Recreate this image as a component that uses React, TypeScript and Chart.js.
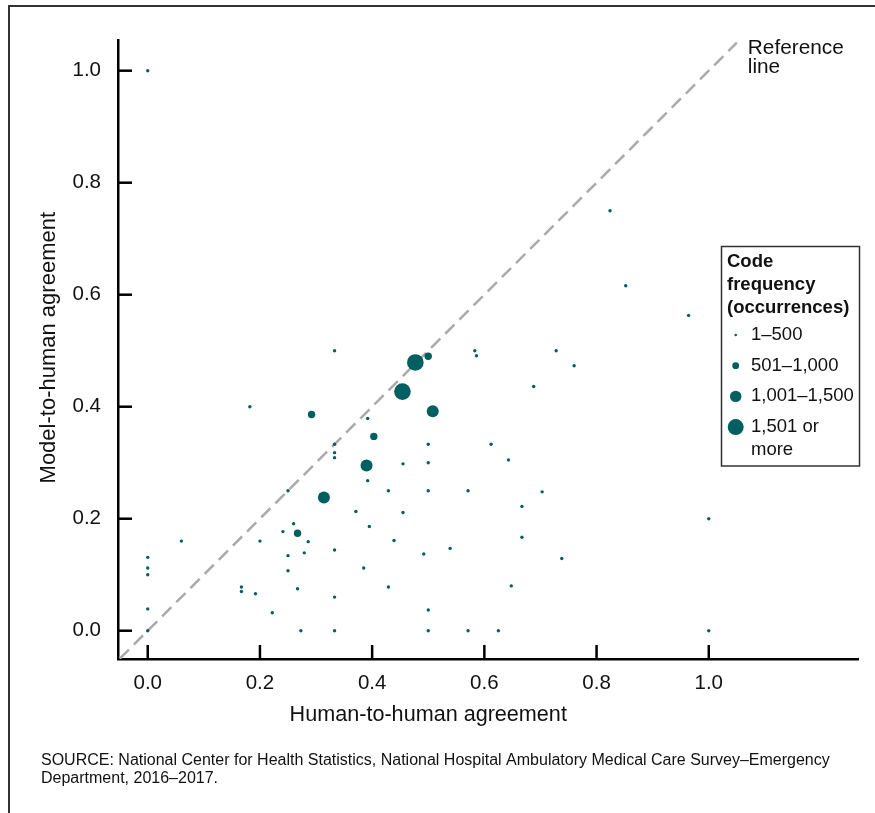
import React, { useEffect, useRef } from "react";
import { Chart, registerables } from "chart.js";

Chart.register(...registerables);

// ---- Data ----
const humanAgreement = [
  0, 0.824, 0.852, 0.964, 0.333, 0.583, 0.586, 0.728, 0.76, 0.688,
  0.182, 0.392, 0.333, 0.333, 0.333, 0.5, 0.612, 0.455, 0.5, 0.643,
  0.392, 0.25, 0.429, 0.5, 0.571, 0.703, 0.667, 0.371, 0.455, 1.0,
  0.26, 0.241, 0.395, 0.667, 0.286, 0.2, 0.06, 0.439, 0.539, 0.333,
  0.279, 0.25, 0.492, 0.738, 0, 0, 0, 0.385, 0.25, 0.167,
  0.167, 0.192, 0.267, 0.429, 0.648, 0.333, 0, 0.5, 0.222, 0,
  0.273, 0.333, 0.5, 0.571, 0.625, 1.0,
  0.292, 0.267, 0.403, 0.5,
  0.314, 0.508, 0.39,
  0.477, 0.454,
];
const modelAgreement = [
  1.0, 0.75, 0.616, 0.563, 0.5, 0.5, 0.491, 0.5, 0.473, 0.436,
  0.4, 0.379, 0.333, 0.318, 0.309, 0.333, 0.333, 0.298, 0.3, 0.305,
  0.268, 0.25, 0.25, 0.25, 0.25, 0.248, 0.222, 0.213, 0.211, 0.2,
  0.191, 0.177, 0.186, 0.167, 0.159, 0.16, 0.16, 0.161, 0.147, 0.144,
  0.139, 0.134, 0.137, 0.129, 0.131, 0.112, 0.1, 0.112, 0.107, 0.078,
  0.07, 0.066, 0.075, 0.078, 0.08, 0.06, 0.039, 0.037, 0.032, 0,
  0, 0, 0, 0, 0, 0,
  0.386, 0.174, 0.347, 0.49,
  0.238, 0.392, 0.295,
  0.479, 0.427,
];
// 0 = 1–500, 1 = 501–1,000, 2 = 1,001–1,500, 3 = 1,501 or more
const frequencyBand = [
  0, 0, 0, 0, 0, 0, 0, 0, 0, 0,
  0, 0, 0, 0, 0, 0, 0, 0, 0, 0,
  0, 0, 0, 0, 0, 0, 0, 0, 0, 0,
  0, 0, 0, 0, 0, 0, 0, 0, 0, 0,
  0, 0, 0, 0, 0, 0, 0, 0, 0, 0,
  0, 0, 0, 0, 0, 0, 0, 0, 0, 0,
  0, 0, 0, 0, 0, 0,
  1, 1, 1, 1,
  2, 2, 2,
  3, 3,
];
const bandLabels = ["1–500", "501–1,000", "1,001–1,500", "1,501 or more"];
const legendTitle = ["Code", "frequency", "(occurrences)"];
const xTickValues = [0, 0.2, 0.4, 0.6, 0.8, 1.0];
const yTickValues = [0, 0.2, 0.4, 0.6, 0.8, 1.0];
const referenceLineEnds = [-0.05, 1.05];
const referenceLabel = ["Reference", "line"];
const xTitle = "Human-to-human agreement";
const yTitle = "Model-to-human agreement";
const sourceLines = [
  "SOURCE: National Center for Health Statistics, National Hospital Ambulatory Medical Care Survey–Emergency",
  "Department, 2016–2017.",
];

// ---- Styles ----
const FONT = '"Liberation Sans", Arial, Helvetica, sans-serif';
const TEAL = "#005f60";
const TEXT = "#111111";
const BAND_RADIUS = [1.7, 3.7, 6, 8.3];
const LEGEND_RADIUS = [1.3, 3.4, 5.7, 8];

function wrapText(ctx: CanvasRenderingContext2D, text: string, maxWidth: number): string[] {
  const words = text.split(" ");
  const lines: string[] = [];
  let cur = "";
  words.forEach((w) => {
    const test = cur ? cur + " " + w : w;
    if (ctx.measureText(test).width > maxWidth && cur) {
      lines.push(cur);
      cur = w;
    } else {
      cur = test;
    }
  });
  if (cur) lines.push(cur);
  return lines;
}

const decorPlugin = {
  id: "decor",
  afterDraw(chart: any) {
    const { ctx, chartArea } = chart;
    const x = chart.scales.x;
    const y = chart.scales.y;
    ctx.save();

    // outer frame (top & left edges)
    ctx.fillStyle = "#333333";
    ctx.fillRect(8, 5, chart.width - 8, 2);
    ctx.fillRect(8, 5, 2, chart.height - 5);

    // inward tick marks
    ctx.strokeStyle = "#000";
    ctx.lineWidth = 2.5;
    xTickValues.forEach((v) => {
      const px = x.getPixelForValue(v);
      ctx.beginPath();
      ctx.moveTo(px, chartArea.bottom);
      ctx.lineTo(px, chartArea.bottom - 14);
      ctx.stroke();
    });
    yTickValues.forEach((v) => {
      const py = y.getPixelForValue(v);
      ctx.beginPath();
      ctx.moveTo(chartArea.left, py);
      ctx.lineTo(chartArea.left + 14, py);
      ctx.stroke();
    });

    // axis titles
    ctx.fillStyle = TEXT;
    ctx.textAlign = "center";
    ctx.textBaseline = "middle";
    ctx.font = `21.6px ${FONT}`;
    ctx.fillText(xTitle, x.getPixelForValue(0.5), 715);
    ctx.save();
    ctx.font = `22px ${FONT}`;
    ctx.translate(48.5, y.getPixelForValue(0.5) - 3);
    ctx.rotate(-Math.PI / 2);
    ctx.fillText(yTitle, 0, 0);
    ctx.restore();

    // reference line label
    ctx.font = `20.8px ${FONT}`;
    ctx.textAlign = "left";
    const rx = x.getPixelForValue(referenceLineEnds[1]) + 11;
    const ry = y.getPixelForValue(referenceLineEnds[1]) + 6;
    referenceLabel.forEach((t, i) => ctx.fillText(t, rx, ry + i * 19));

    // legend
    const lx = 721.5, ly = 246.5, lw = 138, lh = 219.5;
    ctx.lineWidth = 1.5;
    ctx.strokeStyle = "#333333";
    ctx.strokeRect(lx, ly, lw, lh);
    ctx.font = `bold 18.5px ${FONT}`;
    ctx.fillStyle = TEXT;
    legendTitle.forEach((t, i) => ctx.fillText(t, 727, 262 + i * 23));
    ctx.font = `18.5px ${FONT}`;
    let cy = 335;
    bandLabels.forEach((label, i) => {
      const lines = wrapText(ctx, label, 106);
      ctx.fillStyle = TEAL;
      ctx.beginPath();
      ctx.arc(735.7, cy, LEGEND_RADIUS[i], 0, Math.PI * 2);
      ctx.fill();
      ctx.fillStyle = TEXT;
      lines.forEach((ln, j) => ctx.fillText(ln, 751, cy + j * 22.7));
      cy += lines.length * 22.7 + 8;
    });

    // source note
    ctx.font = `16px ${FONT}`;
    ctx.fillStyle = TEXT;
    sourceLines.forEach((t, i) => ctx.fillText(t, 41, 761 + i * 18));

    ctx.restore();
  },
};

export default function App() {
  const canvasRef = useRef<HTMLCanvasElement | null>(null);

  useEffect(() => {
    if (!canvasRef.current) return;
    const bandData = bandLabels.map((_, b) =>
      humanAgreement
        .map((hx, i) => ({ x: hx, y: modelAgreement[i], b: frequencyBand[i] }))
        .filter((p) => p.b === b)
        .map((p) => ({ x: p.x, y: p.y }))
    );

    const datasets: any[] = bandData.map((data, b) => ({
      type: "scatter",
      label: bandLabels[b],
      data,
      pointRadius: BAND_RADIUS[b],
      pointBackgroundColor: TEAL,
      pointBorderWidth: 0,
      pointHoverRadius: BAND_RADIUS[b],
      order: 4 - b,
    }));
    datasets.push({
      type: "line",
      label: "Reference line",
      data: referenceLineEnds.map((v) => ({ x: v, y: v })),
      borderColor: "#aaaaaa",
      borderWidth: 2.5,
      borderDash: [13, 7],
      pointRadius: 0,
      fill: false,
      order: 10,
    });

    const chart = new Chart(canvasRef.current, {
      type: "scatter",
      data: { datasets },
      plugins: [decorPlugin],
      options: {
        responsive: false,
        animation: false,
        events: [],
        layout: { padding: { top: 40, right: 17, left: 0, bottom: 0 } },
        plugins: {
          legend: { display: false },
          tooltip: { enabled: false },
        },
        scales: {
          x: {
            type: "linear",
            min: -0.053,
            max: 1.266,
            afterBuildTicks: (scale: any) => {
              scale.ticks = xTickValues.map((v) => ({ value: v }));
            },
            afterFit: (scale: any) => {
              scale.height = 154;
            },
            grid: { display: false, drawTicks: false },
            border: { display: true, color: "#000", width: 2.5 },
            ticks: {
              autoSkip: false,
              maxRotation: 0,
              padding: 12,
              color: TEXT,
              font: { family: FONT, size: 20.5 },
              callback: (v: any) => Number(v).toFixed(1),
            },
          },
          y: {
            type: "linear",
            min: -0.0505,
            max: 1.0548,
            afterBuildTicks: (scale: any) => {
              scale.ticks = yTickValues.map((v) => ({ value: v }));
            },
            afterFit: (scale: any) => {
              scale.width = 118;
            },
            grid: { display: false, drawTicks: false },
            border: { display: true, color: "#000", width: 2.5 },
            ticks: {
              autoSkip: false,
              padding: 17,
              color: TEXT,
              font: { family: FONT, size: 20.5 },
              callback: (v: any) => Number(v).toFixed(1),
            },
          },
        },
      } as any,
    });

    return () => chart.destroy();
  }, []);

  return (
    <div style={{ position: "absolute", left: 0, top: 0, width: 875, height: 813, background: "#fff" }}>
      <canvas ref={canvasRef} width={875} height={813} style={{ display: "block" }} />
    </div>
  );
}
